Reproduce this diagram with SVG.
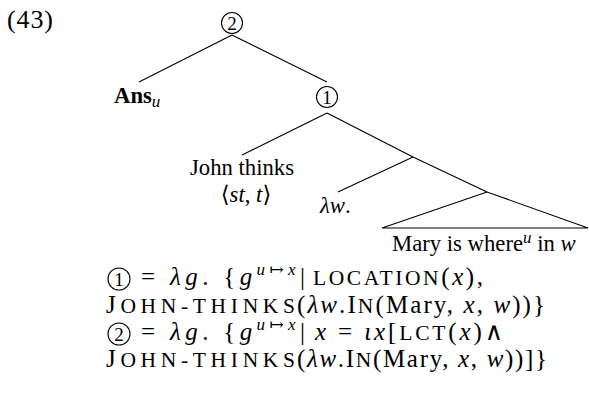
<svg xmlns="http://www.w3.org/2000/svg" width="589" height="401" viewBox="0 0 589 401">
<style>
.t{font-family:"Liberation Serif","DejaVu Serif",serif;font-size:22.7px;fill:#000}
.f{font-family:"Liberation Serif","DejaVu Serif",serif;font-size:25px;fill:#000}
.i{font-style:italic}
.sc{font-size:21.5px}
.sup{font-size:17px}
.b{font-weight:bold}
.ln{stroke:#000;stroke-width:1.1;fill:none}
.c{fill:none;stroke:#000;stroke-width:1.1}
.d{font-family:"Liberation Serif","DejaVu Serif",serif;font-size:19px;text-anchor:middle;fill:#000}
</style>
<rect width="589" height="401" fill="#fff"/>
<g id="example-number"><text class="t" x="7" y="28" style="font-size:26px" textLength="46">(43)</text></g>
<g id="node2"><circle class="c" cx="232" cy="23" r="10.5"/><text class="d" x="232" y="30">2</text></g>
<g id="node-ans"><text class="t" x="114" y="103"><tspan class="b">Ans</tspan><tspan class="i sup" dy="4">u</tspan></text></g>
<g id="node1"><circle class="c" cx="327" cy="97" r="10.5"/><text class="d" x="327" y="104">1</text></g>
<g id="node-john"><text class="t" x="242" y="175" text-anchor="middle">John thinks</text><text class="t" x="246" y="202" text-anchor="middle">⟨<tspan class="i">st</tspan>, <tspan class="i">t</tspan>⟩</text></g>
<g id="node-lambda"><text class="t" x="320" y="213"><tspan class="i">λw</tspan>.</text></g>
<g id="node-mary"><path class="ln" d="M487,192 L382,228 L588,228 Z"/><text class="t" x="392" y="251">Mary is where<tspan class="i sup" dy="-8">u</tspan><tspan dy="8"> in </tspan><tspan class="i">w</tspan></text></g>
<g id="connectors">
<line class="ln" x1="232" y1="35" x2="139" y2="82"/>
<line class="ln" x1="232" y1="35" x2="327" y2="82"/>
<line class="ln" x1="327" y1="113" x2="242" y2="155"/>
<line class="ln" x1="327" y1="113" x2="413" y2="157"/>
<line class="ln" x1="413" y1="157" x2="487" y2="192"/>
<line class="ln" x1="413" y1="157" x2="338" y2="192"/>
</g>
<g id="formula">
<circle class="c" cx="119" cy="279" r="11"/><text class="d" x="119" y="286">1</text>
<text class="f" x="141" y="285" textLength="164" lengthAdjust="spacing">= <tspan class="i">λg</tspan>. {<tspan class="i">g</tspan><tspan class="sup" dy="-10"><tspan class="i">u</tspan>↦<tspan class="i">x</tspan></tspan><tspan dy="10">|</tspan></text>
<text class="f" x="313" y="285" textLength="170" lengthAdjust="spacing"><tspan class="sc">LOCATION</tspan>(<tspan class="i">x</tspan>),</text>
<text class="f" x="106" y="313" textLength="189" lengthAdjust="spacing">J<tspan class="sc">OHN-THINKS</tspan></text>
<text class="f" x="297" y="313" textLength="248" lengthAdjust="spacing">(<tspan class="i">λw</tspan>.I<tspan class="sc">N</tspan>(Mary, <tspan class="i">x</tspan>, <tspan class="i">w</tspan>))}</text>
<circle class="c" cx="119" cy="334" r="11"/><text class="d" x="119" y="341">2</text>
<text class="f" x="141" y="340" textLength="164" lengthAdjust="spacing">= <tspan class="i">λg</tspan>. {<tspan class="i">g</tspan><tspan class="sup" dy="-10"><tspan class="i">u</tspan>↦<tspan class="i">x</tspan></tspan><tspan dy="10">|</tspan></text>
<text class="f" x="315" y="340" textLength="188" lengthAdjust="spacing"><tspan class="i">x</tspan> = <tspan class="i">ιx</tspan>[<tspan class="sc">LCT</tspan>(<tspan class="i">x</tspan>)∧</text>
<text class="f" x="106" y="367" textLength="189" lengthAdjust="spacing">J<tspan class="sc">OHN-THINKS</tspan></text>
<text class="f" x="297" y="367" textLength="250" lengthAdjust="spacing">(<tspan class="i">λw</tspan>.I<tspan class="sc">N</tspan>(Mary, <tspan class="i">x</tspan>, <tspan class="i">w</tspan>))]}</text>
</g>
</svg>
